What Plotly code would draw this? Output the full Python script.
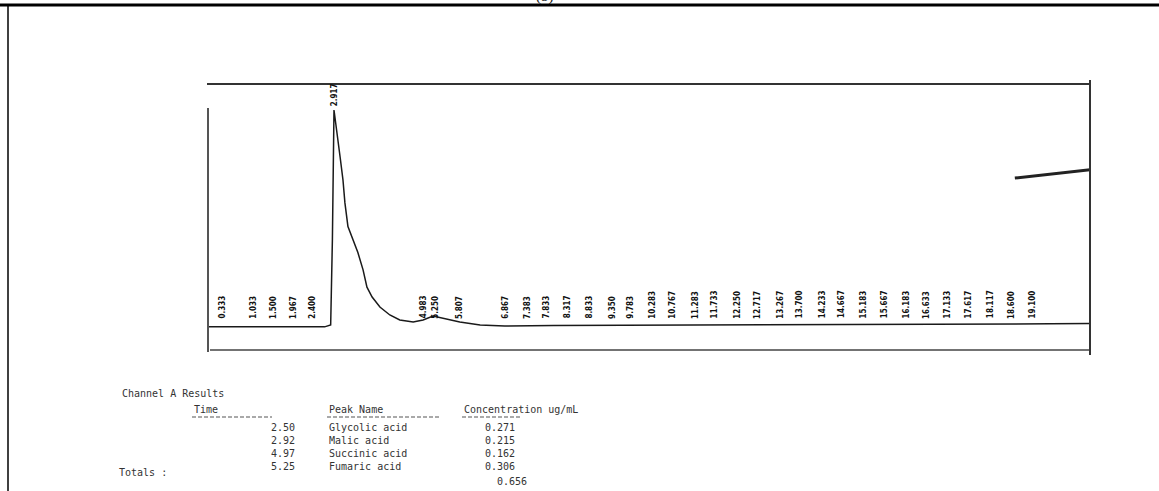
import plotly.graph_objects as go

# chromatogram trace (time in min, detector signal, arbitrary units)
trace_t = [0.0, 0.4, 0.9, 1.4, 1.9, 2.4, 2.7, 2.84, 2.88, 2.917, 2.99, 3.06, 3.125, 3.17,
           3.24, 3.36, 3.47, 3.59, 3.68, 3.80, 3.98, 4.21, 4.44, 4.75, 4.98, 5.21, 5.44,
           5.83, 6.30, 6.87, 8.0, 10.0, 12.0, 14.0, 16.0, 18.0, 19.5, 20.42]
trace_s = [-0.4, -0.3, -0.5, -0.3, -0.4, -0.5, -0.4, 0.5, 40, 100, 87.5, 78, 67.6, 57,
           46, 40, 34, 26, 18, 13.4, 8.8, 5.1, 2.8, 1.9, 2.8, 4.6, 3.7,
           1.9, 0.5, 0.0, 0.2, 0.3, 0.4, 0.5, 0.6, 0.8, 1.0, 1.2]

# recorder mark near the right end
drift_t = [18.68, 20.42]
drift_s = [68.5, 72.3]

# retention times printed over the peaks
peak_labels = ["0.333", "1.033", "1.500", "1.967", "2.400", "2.917", "4.983", "5.250",
               "5.807", "6.867", "7.383", "7.833", "8.317", "8.833", "9.350", "9.783",
               "10.283", "10.767", "11.283", "11.733", "12.250", "12.717", "13.267",
               "13.700", "14.233", "14.667", "15.183", "15.667", "16.183", "16.633",
               "17.133", "17.617", "18.117", "18.600", "19.100"]

# results table
table_time = ["2.50", "2.92", "4.97", "5.25"]
table_name = ["Glycolic acid", "Malic acid", "Succinic acid", "Fumaric acid"]
table_conc = ["0.271", "0.215", "0.162", "0.306"]
table_total = "0.656"

W, H = 1159, 491
L, R, T, B = 208, 1090, 84, 350


def px(x):
    return (x - L) / (R - L)


def py(y):
    return (B - y) / (B - T)


fig = go.Figure()
fig.add_trace(go.Scatter(x=trace_t, y=trace_s, mode="lines",
                         line=dict(color="#1a1a1a", width=1.5), hoverinfo="skip"))
fig.add_trace(go.Scatter(x=drift_t, y=drift_s, mode="lines",
                         line=dict(color="#222", width=3), hoverinfo="skip"))

ann = []
lab_font = dict(family="DejaVu Sans Condensed, DejaVu Sans", size=8, color="#111")
for lab in peak_labels:
    t = float(lab)
    y = 101 if lab == "2.917" else 2.5
    ann.append(dict(x=t, y=y, xref="x", yref="y", text="<b>" + lab + "</b>",
                    textangle=-90, showarrow=False, yanchor="bottom", font=lab_font))

mono = dict(family="DejaVu Sans Mono, Liberation Mono", size=10, color="#333")


def txt(x, y, s, xanchor="left", yanchor="middle", align="left"):
    ann.append(dict(x=px(x), y=py(y), xref="paper", yref="paper", text=s,
                    showarrow=False, xanchor=xanchor, yanchor=yanchor,
                    align=align, font=mono))


txt(120, 394, "Channel A Results")
txt(192, 409, "Time")
txt(327, 409, "Peak Name")
txt(462, 409, "Concentration ug/mL")
# table body, one block per column
txt(297, 420, "<br>".join(table_time), "right", "top", "right")
txt(327, 420, "<br>".join(table_name), "left", "top")
txt(483, 420, "<br>".join(table_conc), "left", "top")
txt(117, 472, "Totals :")
txt(495, 481, table_total)

ann.append(dict(x=px(545), y=py(-3), xref="paper", yref="paper", text="(b)",
                showarrow=False, yanchor="middle",
                font=dict(family="Liberation Serif", size=15, color="#111")))

shapes = []


def seg(x0, y0, x1, y1, w=1.5, c="#222", dash="solid"):
    shapes.append(dict(type="line", xref="paper", yref="paper",
                       x0=px(x0), y0=py(y0), x1=px(x1), y1=py(y1),
                       line=dict(color=c, width=w, dash=dash)))


# outer page frame
seg(0, 5, W, 5, 3, "#000")
seg(8, 5, 8, H, 1.5, "#000")
# chart frame
seg(207, 84, 1090, 84, 2, "#333")
seg(208, 108, 208, 352, 2, "#555")
seg(210, 350, 1090, 350, 1.5, "#444")
seg(1090, 80, 1090, 355, 2, "#333")
# table header underlines
seg(192, 417, 272, 417, 1.2, "#555", "4px,2px")
seg(327, 417, 440, 417, 1.2, "#555", "4px,2px")
seg(462, 417, 520, 417, 1.2, "#555", "4px,2px")

fig.update_layout(
    width=W, height=H,
    margin=dict(l=L, r=W - R, t=T, b=H - B),
    paper_bgcolor="white", plot_bgcolor="white",
    showlegend=False,
    xaxis=dict(range=[0, 20.42], visible=False, fixedrange=True),
    yaxis=dict(range=[(326 - B) / 2.16, (326 - T) / 2.16], visible=False, fixedrange=True),
    annotations=ann, shapes=shapes,
)

fig.write_html("out.html", config={"displayModeBar": False},
               post_script="document.body.style.margin='0';")
